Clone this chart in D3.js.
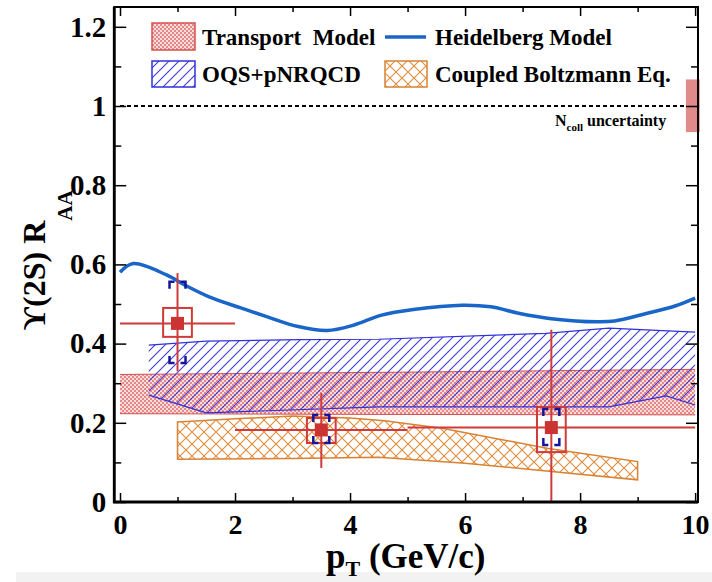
<!DOCTYPE html>
<html>
<head>
<meta charset="utf-8">
<script src="https://cdn.jsdelivr.net/npm/d3@7"></script>
<style>
body { margin: 0; background: #fff; }
svg { display: block; font-family: "Liberation Serif", "Times New Roman", serif; font-weight: bold; }
</style>
</head>
<body>
<svg id="chart" width="712" height="582"></svg>
<script>
// Heidelberg model curve
const heidX = [0, 0.23, 0.8, 1.15, 1.55, 2.1, 2.55, 3.1, 3.6, 4.05, 4.55, 5.1, 5.95, 6.45, 6.95, 7.5, 8.3, 8.6, 9.15, 9.65, 10];
const heidY = [0.58, 0.602, 0.574, 0.546, 0.518, 0.49, 0.468, 0.443, 0.433, 0.446, 0.472, 0.486, 0.497, 0.493, 0.476, 0.463, 0.455, 0.457, 0.476, 0.495, 0.515];
// OQS+pNRQCD band edges
const oqsUpX = [0.5, 1.5, 3.1, 4.5, 7.4, 8.5, 10];
const oqsUpY = [0.396, 0.406, 0.41, 0.411, 0.426, 0.439, 0.429];
const oqsLoX = [0.5, 1.5, 4.5, 8.5, 9.5, 10];
const oqsLoY = [0.27, 0.225, 0.24, 0.24, 0.268, 0.245];
// Transport model band
const trX = [0, 5, 10];
const trUp = [0.322, 0.328, 0.335];
const trLo = [0.223, 0.221, 0.22];
// Coupled Boltzmann band edges
const cbUpX = [1, 2, 3, 4, 4.6, 5.6, 7.45, 9];
const cbUpY = [0.202, 0.21, 0.217, 0.212, 0.205, 0.186, 0.135, 0.102];
const cbLoX = [1, 3, 4.5, 6, 7.5, 9];
const cbLoY = [0.108, 0.11, 0.113, 0.098, 0.077, 0.056];
// measured points
const ptX = [1, 3.5, 7.5];
const ptY = [0.451, 0.182, 0.188];
const ptXerr = [1, 1.5, 2.5];
const statLo = [0.33, 0.086, 0];
const statHi = [0.578, 0.275, 0.435];
const sysLo = [0.417, 0.149, 0.126];
const sysHi = [0.49, 0.212, 0.24];
const corLo = [0.351, 0.149, 0.144];
const corHi = [0.556, 0.22, 0.235];
const ncoll = [0.934, 1.067];
// ticks
const xMajor = [0, 2, 4, 6, 8, 10];
const xMinor = [1, 3, 5, 7, 9];
const xLabels = ["0", "2", "4", "6", "8", "10"];
const yMajor = [0, 0.2, 0.4, 0.6, 0.8, 1, 1.2];
const yMinor = [0.1, 0.3, 0.5, 0.7, 0.9, 1.1];
const yLabels = ["0", "0.2", "0.4", "0.6", "0.8", "1", "1.2"];

const red = "#d03a3a", navy = "#15159a", heidCol = "#1a66c8";
const svg = d3.select("#chart");
const x = d3.scaleLinear().domain([-0.1, 10.05]).range([114.25, 698]);
const y = d3.scaleLinear().domain([0, 1.25]).range([502, 7]);

// grey strip at the very bottom of the screenshot
svg.append("rect").attr("x", 16).attr("y", 572).attr("width", 696).attr("height", 10).attr("fill", "#f2f2f2");

// patterns
const defs = svg.append("defs");
const pt = defs.append("pattern").attr("id", "trPat").attr("patternUnits", "userSpaceOnUse").attr("width", 4).attr("height", 4);
pt.append("rect").attr("width", 4).attr("height", 4).attr("fill", "#f9dddd");
pt.append("rect").attr("width", 2).attr("height", 2).attr("fill", "#e48888");
pt.append("rect").attr("x", 2).attr("y", 2).attr("width", 2).attr("height", 2).attr("fill", "#e48888");
const po = defs.append("pattern").attr("id", "oqsPat").attr("patternUnits", "userSpaceOnUse").attr("width", 10).attr("height", 10);
po.append("path").attr("d", "M0,10L10,0M-2,2L2,-2M8,12L12,8").attr("stroke", "#3b3bdc").attr("stroke-width", 1.1);
const pc = defs.append("pattern").attr("id", "cbPat").attr("patternUnits", "userSpaceOnUse").attr("width", 12).attr("height", 12);
pc.append("path").attr("d", "M0,0L12,12M12,0L0,12").attr("stroke", "#e08c3c").attr("stroke-width", 1.1);

const line = d3.line().x(d => x(d[0])).y(d => y(d[1]));
function band(ux, uy, lx, ly) {
    const up = ux.map((v, i) => [v, uy[i]]);
    const lo = lx.map((v, i) => [v, ly[i]]).reverse();
    return line(up.concat(lo)) + "Z";
}

// transport band
svg.append("path").attr("d", band(trX, trUp, trX, trLo)).attr("fill", "url(#trPat)");
svg.append("path").attr("d", line(trX.map((v, i) => [v, trUp[i]]))).attr("fill", "none").attr("stroke", "#d65050").attr("stroke-width", 1);
svg.append("path").attr("d", line(trX.map((v, i) => [v, trLo[i]]))).attr("fill", "none").attr("stroke", "#d65050").attr("stroke-width", 1);

// OQS band
svg.append("path").attr("d", band(oqsUpX, oqsUpY, oqsLoX, oqsLoY)).attr("fill", "url(#oqsPat)");
svg.append("path").attr("d", line(oqsUpX.map((v, i) => [v, oqsUpY[i]]))).attr("fill", "none").attr("stroke", "#3030dd").attr("stroke-width", 1.2);
svg.append("path").attr("d", line(oqsLoX.map((v, i) => [v, oqsLoY[i]]))).attr("fill", "none").attr("stroke", "#3030dd").attr("stroke-width", 1.2);

// coupled Boltzmann band
svg.append("path").attr("d", band(cbUpX, cbUpY, cbLoX, cbLoY)).attr("fill", "url(#cbPat)")
    .attr("stroke", "#d98232").attr("stroke-width", 1.5);

// Heidelberg curve
svg.append("path").attr("d", line.curve(d3.curveCatmullRom)(heidX.map((v, i) => [v, heidY[i]])))
    .attr("fill", "none").attr("stroke", heidCol).attr("stroke-width", 3.5);
line.curve(d3.curveLinear);

// unity line and Ncoll box
svg.append("line").attr("x1", x(0)).attr("x2", x(10)).attr("y1", y(1)).attr("y2", y(1))
    .attr("stroke", "#000").attr("stroke-width", 2).attr("stroke-dasharray", "4,3");
svg.append("rect").attr("x", x(9.84)).attr("y", y(ncoll[1])).attr("width", x(10.08) - x(9.84))
    .attr("height", y(ncoll[0]) - y(ncoll[1])).attr("fill", "#e08a8a");

// data points
const boxHalf = 0.25;
ptX.forEach((px, i) => {
    const cx = x(px), cy = y(ptY[i]);
    svg.append("line").attr("x1", x(px - ptXerr[i])).attr("x2", x(px + ptXerr[i])).attr("y1", cy).attr("y2", cy)
        .attr("stroke", red).attr("stroke-width", 2);
    svg.append("line").attr("x1", cx).attr("x2", cx).attr("y1", y(statLo[i])).attr("y2", y(statHi[i]))
        .attr("stroke", red).attr("stroke-width", 2);
    svg.append("rect").attr("x", x(px - boxHalf)).attr("y", y(sysHi[i])).attr("width", x(px + boxHalf) - x(px - boxHalf))
        .attr("height", y(sysLo[i]) - y(sysHi[i])).attr("fill", "none").attr("stroke", red).attr("stroke-width", 2);
    const yt = y(corHi[i]), yb = y(corLo[i]);
    const br = `M${cx - 8},${yt + 7}V${yt}H${cx - 3}M${cx + 8},${yt + 7}V${yt}H${cx + 3}` +
        `M${cx - 8},${yb - 7}V${yb}H${cx - 3}M${cx + 8},${yb - 7}V${yb}H${cx + 3}`;
    svg.append("path").attr("d", br).attr("fill", "none").attr("stroke", navy).attr("stroke-width", 2.5);
    svg.append("rect").attr("x", cx - 6.5).attr("y", cy - 6.5).attr("width", 13).attr("height", 13).attr("fill", "#cc3333");
});

// axes
function styleAxis(g, size) {
    g.select(".domain").remove();
    g.attr("font-family", null).attr("font-size", size).attr("font-weight", "bold");
    g.selectAll("line").attr("stroke-width", 1.5);
    g.selectAll("text").attr("fill", "#000");
}
const [x0, x1] = x.range(), [y0, y1] = y.range();
svg.append("g").attr("transform", `translate(0,${y0})`)
    .call(d3.axisBottom(x).tickValues(xMajor).tickFormat((d, i) => xLabels[i]).tickSize(-9).tickPadding(12)).call(g => styleAxis(g, 28));
svg.append("g").attr("transform", `translate(0,${y0})`)
    .call(d3.axisBottom(x).tickValues(xMinor).tickFormat("").tickSize(-5)).call(g => styleAxis(g, 10));
svg.append("g").attr("transform", `translate(0,${y1})`)
    .call(d3.axisTop(x).tickValues(xMajor).tickFormat("").tickSize(-9)).call(g => styleAxis(g, 10));
svg.append("g").attr("transform", `translate(0,${y1})`)
    .call(d3.axisTop(x).tickValues(xMinor).tickFormat("").tickSize(-5)).call(g => styleAxis(g, 10));
svg.append("g").attr("transform", `translate(${x0},0)`)
    .call(d3.axisLeft(y).tickValues(yMajor).tickFormat((d, i) => yLabels[i]).tickSize(-12).tickPadding(8)).call(g => styleAxis(g, 29));
svg.append("g").attr("transform", `translate(${x0},0)`)
    .call(d3.axisLeft(y).tickValues(yMinor).tickFormat("").tickSize(-7)).call(g => styleAxis(g, 10));
svg.append("g").attr("transform", `translate(${x1},0)`)
    .call(d3.axisRight(y).tickValues(yMajor).tickFormat("").tickSize(-12)).call(g => styleAxis(g, 10));
svg.append("g").attr("transform", `translate(${x1},0)`)
    .call(d3.axisRight(y).tickValues(yMinor).tickFormat("").tickSize(-7)).call(g => styleAxis(g, 10));

// frame
svg.append("rect").attr("x", x0).attr("y", y1).attr("width", x1 - x0).attr("height", y0 - y1)
    .attr("fill", "none").attr("stroke", "#000").attr("stroke-width", 2);
svg.append("path").attr("d", `M${x0},${y1}V${y0}H${x1}`).attr("fill", "none").attr("stroke", "#000").attr("stroke-width", 2.8);

// legend
const lg = svg.append("g").attr("font-size", 23);
lg.append("rect").attr("x", 152).attr("y", 23).attr("width", 43).attr("height", 27).attr("fill", "url(#trPat)").attr("stroke", "#d65050").attr("stroke-width", 1.5);
lg.append("text").attr("x", 202).attr("y", 45).attr("xml:space", "preserve").text("Transport  Model");
lg.append("line").attr("x1", 385).attr("x2", 426).attr("y1", 37).attr("y2", 37).attr("stroke", heidCol).attr("stroke-width", 3.5);
lg.append("text").attr("x", 435).attr("y", 45).text("Heidelberg Model");
lg.append("rect").attr("x", 152).attr("y", 61).attr("width", 43).attr("height", 26).attr("fill", "url(#oqsPat)").attr("stroke", "#3030dd").attr("stroke-width", 1.5);
lg.append("text").attr("x", 202).attr("y", 82).text("OQS+pNRQCD");
lg.append("rect").attr("x", 385).attr("y", 61).attr("width", 42).attr("height", 26).attr("fill", "url(#cbPat)").attr("stroke", "#d98232").attr("stroke-width", 1.5);
lg.append("text").attr("x", 435).attr("y", 82).text("Coupled Boltzmann Eq.");

// Ncoll label
const nt = svg.append("text").attr("x", 555).attr("y", 126).attr("font-size", 16);
nt.append("tspan").text("N");
nt.append("tspan").attr("font-size", 11).attr("dy", 5).text("coll");
nt.append("tspan").attr("dy", -5).attr("xml:space", "preserve").text(" uncertainty");

// axis titles
const xt = svg.append("text").attr("x", 326).attr("y", 568).attr("font-size", 35);
xt.append("tspan").text("p");
xt.append("tspan").attr("font-size", 22).attr("dy", 8).text("T");
xt.append("tspan").attr("dy", -8).attr("xml:space", "preserve").text(" (GeV/c)");

const yt = svg.append("text").attr("transform", "translate(45,330) rotate(-90)").attr("font-size", 32);
yt.append("tspan").text("ϒ(2S) R");
yt.append("tspan").attr("font-size", 21).attr("dy", 27).text("AA");
</script>
</body>
</html>
